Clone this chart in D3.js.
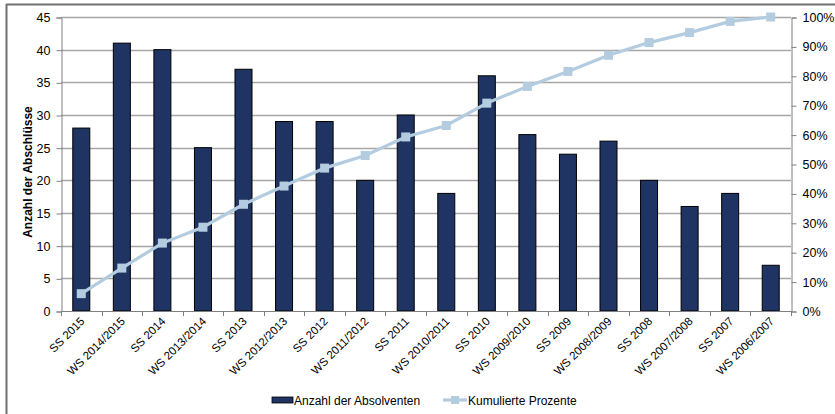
<!DOCTYPE html>
<html>
<head>
<meta charset="utf-8">
<script src="https://cdn.jsdelivr.net/npm/d3@7"></script>
<style>
  html, body { margin: 0; padding: 0; background: #fff; }
  svg { display: block; font-family: "Liberation Sans", Arial, sans-serif; }
</style>
</head>
<body>
<svg id="chart" width="835" height="414"></svg>
<script>
// Semester labels (newest first)
const semesters = [
  "SS 2015", "WS 2014/2015", "SS 2014", "WS 2013/2014", "SS 2013", "WS 2012/2013",
  "SS 2012", "WS 2011/2012", "SS 2011", "WS 2010/2011", "SS 2010", "WS 2009/2010",
  "SS 2009", "WS 2008/2009", "SS 2008", "WS 2007/2008", "SS 2007", "WS 2006/2007"
];
// Number of graduates per semester
const graduates = [28, 41, 40, 25, 37, 29, 29, 20, 30, 18, 36, 27, 24, 26, 20, 16, 18, 7];
// Cumulative share of all graduates, in percent
const cumulativePct = [5.9, 14.6, 23.1, 28.5, 36.3, 42.5, 48.6, 52.9, 59.2, 63.1, 70.7, 76.4, 81.5, 87.0, 91.3, 94.7, 98.5, 100];
// Axis ticks
const countTicks = [0, 5, 10, 15, 20, 25, 30, 35, 40, 45];
const pctTicks = [0, 10, 20, 30, 40, 50, 60, 70, 80, 90, 100];
const legendLabels = ["Anzahl der Absolventen", "Kumulierte Prozente"];

const barColor = "#1f3462";
const lineColor = "#b3cce0";
const gridColor = "#a6a6a6";
const axisColor = "#808080";

const svg = d3.select("#chart");
const plot = { left: 61, right: 791, top: 17, bottom: 311 };

// Outer frame (top and left edges)
svg.append("line").attr("x1", 6).attr("x2", 835).attr("y1", 4.5).attr("y2", 4.5)
  .attr("stroke", "#707070").attr("stroke-width", 2);
svg.append("line").attr("x1", 6.5).attr("x2", 6.5).attr("y1", 4).attr("y2", 414)
  .attr("stroke", "#707070").attr("stroke-width", 2);

const x = d3.scaleBand().domain(semesters).range([plot.left, plot.right]).paddingInner(0).paddingOuter(0);
const y = d3.scaleLinear().domain([0, 45]).range([plot.bottom, plot.top]);
const yPct = d3.scaleLinear().domain([0, 100]).range([plot.bottom, plot.top]);

// Horizontal gridlines
svg.append("g").selectAll("line").data(countTicks.filter(d => d > 0)).join("line")
  .attr("x1", plot.left).attr("x2", plot.right)
  .attr("y1", d => Math.round(y(d)) + 0.5).attr("y2", d => Math.round(y(d)) + 0.5)
  .attr("stroke", gridColor).attr("stroke-width", 1.3);

// Bars
const barW = 17;
svg.append("g").selectAll("rect").data(graduates).join("rect")
  .attr("x", (d, i) => x(semesters[i]) + x.bandwidth() / 2 - barW / 2)
  .attr("y", d => y(d))
  .attr("width", barW)
  .attr("height", d => plot.bottom - y(d))
  .attr("fill", barColor)
  .attr("stroke", "#000").attr("stroke-width", 1);

// Left axis
const yAxis = d3.axisLeft(y).tickValues(countTicks).tickSize(5).tickPadding(6);
const gy = svg.append("g").attr("transform", `translate(${plot.left + 0.5},0.5)`).call(yAxis);
gy.select(".domain").attr("stroke", axisColor);
gy.selectAll(".tick line").attr("stroke", axisColor);
gy.selectAll(".tick text").attr("font-size", 12.5).attr("fill", "#000")
  .attr("font-family", "Liberation Sans, Arial, sans-serif");

// Right axis
const yAxisR = d3.axisRight(yPct).tickValues(pctTicks).tickFormat(d => d + "%").tickSize(5).tickPadding(6);
const gr = svg.append("g").attr("transform", `translate(${plot.right + 0.5},0.5)`).call(yAxisR);
gr.select(".domain").attr("stroke", axisColor);
gr.selectAll(".tick line").attr("stroke", axisColor);
gr.selectAll(".tick text").attr("font-size", 12.5).attr("fill", "#000")
  .attr("font-family", "Liberation Sans, Arial, sans-serif");

// Bottom axis: baseline, ticks at category boundaries, rotated labels
svg.append("line").attr("x1", plot.left).attr("x2", plot.right)
  .attr("y1", plot.bottom + 0.5).attr("y2", plot.bottom + 0.5).attr("stroke", axisColor);
const boundaries = semesters.map(s => x(s)).concat([plot.right]);
svg.append("g").selectAll("line").data(boundaries).join("line")
  .attr("x1", d => Math.round(d) + 0.5).attr("x2", d => Math.round(d) + 0.5)
  .attr("y1", plot.bottom).attr("y2", plot.bottom + 5).attr("stroke", axisColor);
svg.append("g").selectAll("text").data(semesters).join("text")
  .attr("transform", d => `translate(${x(d) + x.bandwidth() / 2 + 4},${plot.bottom + 11}) rotate(-45)`)
  .attr("text-anchor", "end")
  .attr("font-size", 11.5)
  .attr("fill", "#000")
  .text(d => d);

// Cumulative percentage line with square markers
const line = d3.line()
  .x((d, i) => x(semesters[i]) + x.bandwidth() / 2)
  .y(d => yPct(d));
svg.append("path").datum(cumulativePct)
  .attr("d", line).attr("fill", "none")
  .attr("stroke", lineColor).attr("stroke-width", 3.2);
const m = 9;
svg.append("g").selectAll("rect").data(cumulativePct).join("rect")
  .attr("x", (d, i) => x(semesters[i]) + x.bandwidth() / 2 - m / 2)
  .attr("y", d => yPct(d) - m / 2)
  .attr("width", m).attr("height", m)
  .attr("fill", lineColor);

// Y axis title
svg.append("text")
  .attr("transform", `translate(32,${(plot.top + plot.bottom) / 2 + 8}) rotate(-90)`)
  .attr("text-anchor", "middle")
  .attr("font-size", 12)
  .attr("font-weight", "bold")
  .text("Anzahl der Abschlüsse");

// Legend
const lg = svg.append("g");
lg.append("rect").attr("x", 272).attr("y", 397).attr("width", 21).attr("height", 6)
  .attr("fill", barColor).attr("stroke", "#000").attr("stroke-width", 0.8);
lg.append("text").attr("x", 294).attr("y", 404.5).attr("font-size", 12).text(legendLabels[0]);
lg.append("line").attr("x1", 443).attr("x2", 467).attr("y1", 400).attr("y2", 400)
  .attr("stroke", lineColor).attr("stroke-width", 3.2);
lg.append("rect").attr("x", 451).attr("y", 396).attr("width", 8).attr("height", 8).attr("fill", lineColor);
lg.append("text").attr("x", 468).attr("y", 404.5).attr("font-size", 12).text(legendLabels[1]);
</script>
</body>
</html>
